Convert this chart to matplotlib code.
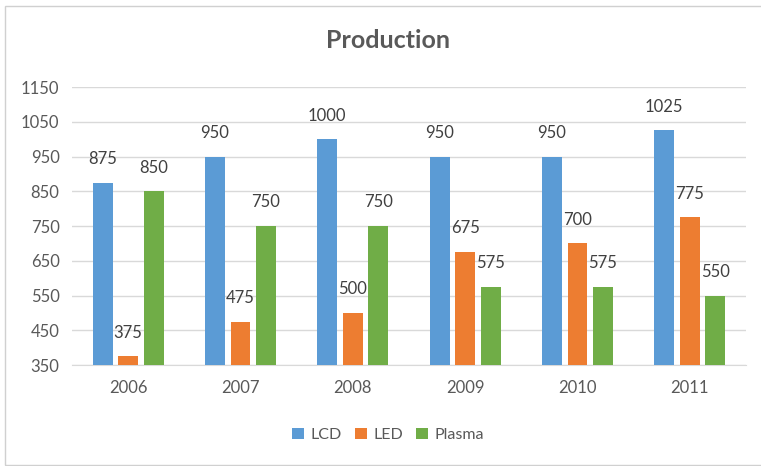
import matplotlib
matplotlib.use("Agg")
import matplotlib.pyplot as plt
import numpy as np
from matplotlib.patches import Rectangle

years = ["2006", "2007", "2008", "2009", "2010", "2011"]
lcd = [875, 950, 1000, 950, 950, 1025]
led = [375, 475, 500, 675, 700, 775]
plasma = [850, 750, 750, 575, 575, 550]
series_names = ["LCD", "LED", "Plasma"]
colors = ["#5B9BD5", "#ED7D31", "#70AD47"]
yticks = [350, 450, 550, 650, 750, 850, 950, 1050, 1150]

plt.rcParams['font.family'] = ['Lato', 'DejaVu Sans']
txt = "#595959"

fig = plt.figure(figsize=(7.61, 4.66), dpi=100)
fig.patches.append(Rectangle((5/761, 1/466), 1.0, 459/466, transform=fig.transFigure,
                             fill=False, edgecolor="#D0D0D0", linewidth=1.0))
ax = fig.add_axes([72/761, (466-365)/466, (746-72)/761, (365-87)/466])

x = np.arange(len(years))
w = 0.178
off = 0.227
for i, (vals, name, c) in enumerate(zip([lcd, led, plasma], series_names, colors)):
    pos = x + (i - 1) * off
    ax.bar(pos, np.array(vals) - 350, bottom=350, width=w, color=c, label=name, zorder=3)
    for p, v in zip(pos, vals):
        ax.annotate(str(v), (p, v), xytext=(0, 17), textcoords="offset points",
                    ha="center", va="center", fontsize=12, color="#404040")

ax.set_ylim(350, 1150)
ax.set_xlim(-0.5, len(years) - 0.5)
ax.set_yticks(yticks)
ax.set_xticks(x)
ax.set_xticklabels(years)
ax.yaxis.grid(True, color="#D9D9D9", linewidth=1.0, zorder=0)
ax.set_axisbelow(True)
for s in ["top", "right", "left"]:
    ax.spines[s].set_visible(False)
ax.spines["bottom"].set_color("#D9D9D9")
ax.tick_params(axis="both", length=0, colors=txt, labelsize=12)
ax.tick_params(axis="y", pad=9)
ax.tick_params(axis="x", pad=11)

fig.text(388/761, 1 - 40/466, "Production", ha="center", va="center",
         fontsize=18, fontweight="bold", color=txt)

handles, labels = ax.get_legend_handles_labels()
fig.legend(handles, labels, loc="center", bbox_to_anchor=(388/761, 1 - 435/466), ncol=3,
           frameon=False, fontsize=11.5, handlelength=0.75, handleheight=0.75,
           handletextpad=0.4, columnspacing=0.8, labelcolor=txt)

fig.savefig("out.png", dpi=100)
